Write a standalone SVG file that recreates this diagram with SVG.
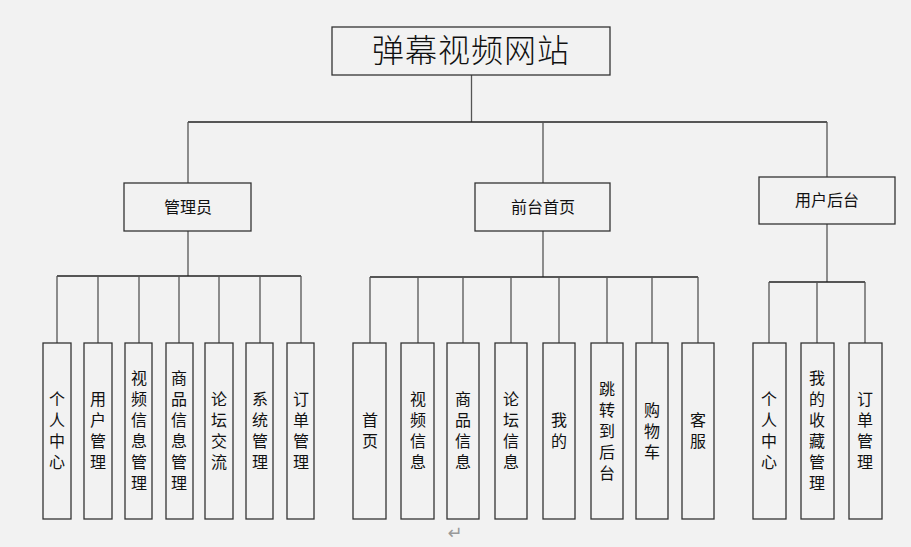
<svg xmlns="http://www.w3.org/2000/svg" width="911" height="547" viewBox="0 0 911 547">
<style>
.bg{fill:#f2f2f2}
.box{fill:#f2f2f2;stroke:#333;stroke-width:1.3}
.ln{fill:none;stroke:#222;stroke-width:1.3}
.vl{fill:none;stroke:#555;stroke-width:1.3}
.t{font-family:"Noto Sans CJK SC","Noto Sans",sans-serif;font-size:16px;fill:#111;text-anchor:middle}
.v{writing-mode:vertical-rl;text-orientation:upright;letter-spacing:5px}
.title{font-family:"Noto Sans CJK SC",sans-serif;font-size:32px;font-weight:300;fill:#111;text-anchor:middle;letter-spacing:1px}
</style>
<rect class="bg" x="0" y="0" width="911" height="547"/>
<g id="connectors">
<path class="vl" d="M471.5 75V122"/>
<path class="ln" d="M188 122H827"/>
<path class="vl" d="M188 122V183M543 122V183M827 122V177"/>
<path class="vl" d="M188 231V276"/>
<path class="ln" d="M57 276H301"/>
<path class="vl" d="M57 276V343M98 276V343M139 276V343M179 276V343M219 276V343M260 276V343M301 276V343"/>
<path class="vl" d="M543 231V277"/>
<path class="ln" d="M370 277H698"/>
<path class="vl" d="M370 277V343M418 277V343M463 277V343M511 277V343M559 277V343M607 277V343M652 277V343M698 277V343"/>
<path class="vl" d="M827 224V282"/>
<path class="ln" d="M769 282H865"/>
<path class="vl" d="M769 282V343M817 282V343M865 282V343"/>
</g>
<g id="root"><rect class="box" x="332" y="27" width="278" height="48"/><text class="title" x="471" y="62">弹幕视频网站</text></g>
<g id="admin"><rect class="box" x="124" y="183" width="127" height="48"/><text class="t" x="188" y="213">管理员</text></g>
<g id="front"><rect class="box" x="475" y="183" width="135" height="48"/><text class="t" x="543" y="213">前台首页</text></g>
<g id="user"><rect class="box" x="759" y="177" width="136" height="47"/><text class="t" x="827" y="206">用户后台</text></g>

<g id="a1"><rect class="box" x="43" y="343" width="28" height="176"/><text class="t v" x="57" y="433">个人中心</text></g>
<g id="a2"><rect class="box" x="84" y="343" width="28" height="176"/><text class="t v" x="98" y="433">用户管理</text></g>
<g id="a3"><rect class="box" x="125" y="343" width="27" height="176"/><text class="t v" x="139" y="433">视频信息管理</text></g>
<g id="a4"><rect class="box" x="166" y="343" width="27" height="176"/><text class="t v" x="179" y="433">商品信息管理</text></g>
<g id="a5"><rect class="box" x="205" y="343" width="28" height="176"/><text class="t v" x="219" y="433">论坛交流</text></g>
<g id="a6"><rect class="box" x="246" y="343" width="27" height="176"/><text class="t v" x="260" y="433">系统管理</text></g>
<g id="a7"><rect class="box" x="287" y="343" width="27" height="176"/><text class="t v" x="301" y="433">订单管理</text></g>

<g id="f1"><rect class="box" x="353" y="343" width="33" height="176"/><text class="t v" x="370" y="433">首页</text></g>
<g id="f2"><rect class="box" x="401" y="343" width="33" height="176"/><text class="t v" x="418" y="433">视频信息</text></g>
<g id="f3"><rect class="box" x="447" y="343" width="32" height="176"/><text class="t v" x="463" y="433">商品信息</text></g>
<g id="f4"><rect class="box" x="495" y="343" width="32" height="176"/><text class="t v" x="511" y="433">论坛信息</text></g>
<g id="f5"><rect class="box" x="543" y="343" width="32" height="176"/><text class="t v" x="559" y="433">我的</text></g>
<g id="f6"><rect class="box" x="591" y="343" width="32" height="176"/><text class="t v" x="607" y="433">跳转到后台</text></g>
<g id="f7"><rect class="box" x="636" y="343" width="32" height="176"/><text class="t v" x="652" y="433">购物车</text></g>
<g id="f8"><rect class="box" x="682" y="343" width="32" height="176"/><text class="t v" x="698" y="433">客服</text></g>

<g id="u1"><rect class="box" x="753" y="343" width="33" height="176"/><text class="t v" x="769" y="433">个人中心</text></g>
<g id="u2"><rect class="box" x="801" y="343" width="33" height="176"/><text class="t v" x="817" y="433">我的收藏管理</text></g>
<g id="u3"><rect class="box" x="849" y="343" width="33" height="176"/><text class="t v" x="865" y="433">订单管理</text></g>

<text x="455" y="539" font-family="DejaVu Sans,sans-serif" font-size="18" fill="#999" text-anchor="middle">↵</text>
</svg>
